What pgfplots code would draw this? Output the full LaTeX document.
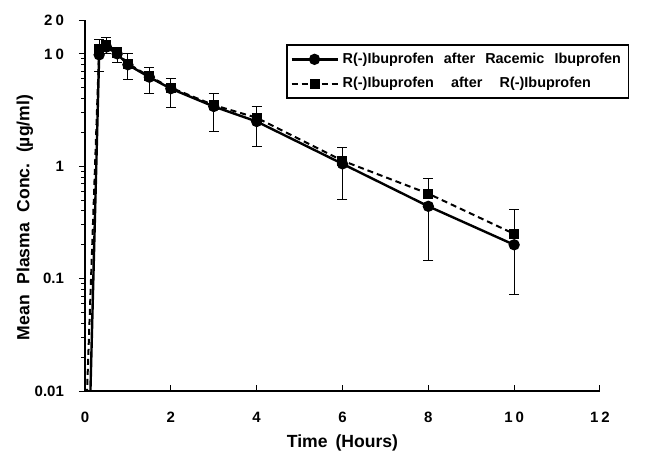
\documentclass[border=0pt]{standalone}
\usepackage{fontspec}
\setmainfont{Liberation Sans}
\usepackage{pgfplots}
\pgfplotsset{compat=1.18}
\usetikzlibrary{calc}

% time, conc (racemic, circles), minus SD, conc (R, squares), plus SD
\pgfplotstableread{
t     c      cm     s      sp
0.33  9.8    2.9    11.0   2.3
0.5   11.5   1.5    12.0   1.9
0.75  10.0   1.7    10.2   1.3
1     8.0    2.1    8.2    1.8
1.5   6.2    1.8    6.3    1.2
2     4.9    1.6    5.0    1.0
3     3.4    1.35   3.5    0.9
4     2.5    1.0    2.7    0.7
6     1.05   0.54   1.12   0.36
8     0.44   0.295  0.57   0.21
10    0.20   0.128  0.25   0.16
}\data

\begin{document}
\begin{tikzpicture}
\begin{axis}[
    scale only axis,
    width=257.5pt, height=185.5pt,
    ymode=log,
    xmin=0, xmax=12, ymin=0.01, ymax=20,
    axis lines=left,
    axis line style={line width=0.75pt, -},
    xtick={0,2,4,6,8,10,12},
    xticklabels={0,2,4,6,8,1\kern1.5pt0,1\kern1.5pt2},
    ytick={0.01,0.1,1,10,20},
    yticklabels={0.01,0.1,1,1\kern1.5pt0,2\kern1.5pt0},
    minor ytick={0.02,0.03,0.04,0.05,0.06,0.07,0.08,0.09,0.2,0.3,0.4,0.5,0.6,0.7,0.8,0.9,2,3,4,5,6,7,8,9},
    x tick style={line width=0.5pt, black},
    y tick style={line width=0.5pt, black},
    xtick align=inside, ytick align=outside,
    major tick length=3pt, minor tick length=1.8pt,
    tick label style={font=\bfseries\fontsize{7.5}{9}\selectfont},
    xticklabel style={yshift=-7pt},
    yticklabel style={xshift=-4pt},
    xlabel={Time\hspace{0.45em}(Hours)},
    ylabel={Mean\hspace{0.6em}Plasma\hspace{0.6em}Conc.\hspace{0.6em}(µg/ml)},
    label style={font=\bfseries\fontsize{8.8}{10}\selectfont},
    xlabel style={yshift=1pt},
    ylabel style={yshift=-6pt, xshift=-6pt},
    legend style={at={(0.39,0.935)}, anchor=north west,
        font=\bfseries\fontsize{7.2}{8.5}\selectfont,
        draw=black, line width=0.9pt, inner sep=1.8pt,
        row sep=1.5pt, cells={anchor=west}},
    legend image code/.code={
        \draw[#1] (0pt,0pt) -- (23pt,0pt);
        \draw[#1, solid] plot coordinates {(11.5pt,0pt)};},
    clip=true,
]
% steep rise from zero (clipped at the bottom)
\addplot[black, line width=1.2pt, forget plot] coordinates {(0.12,0.008) (0.33,9.8)};
\addplot[black, line width=1pt, dash pattern=on 3pt off 2pt, forget plot] coordinates {(0.02,0.005) (0.33,11.0)};
\addplot[black, line width=1.2pt, mark=*, mark size=2.2pt,
    error bars/.cd, y dir=minus, y explicit,
    error bar style={line width=0.5pt, solid},
    error mark options={line width=0.5pt, mark size=2.5pt, rotate=90}]
    table[x=t, y=c, y error minus=cm] {\data};
\addlegendentry{R(-)Ibuprofen\hspace{0.7em}after\hspace{0.7em}Racemic\hspace{0.7em}Ibuprofen}
\addplot[black, line width=1pt, dash pattern=on 3pt off 2pt, mark=square*, mark size=2pt,
    mark options={solid},
    error bars/.cd, y dir=plus, y explicit,
    error bar style={line width=0.5pt, solid},
    error mark options={line width=0.5pt, mark size=2.5pt, rotate=90}]
    table[x=t, y=s, y error plus=sp] {\data};
\addlegendentry{R(-)Ibuprofen\hspace{1.2em}after\hspace{1.2em}R(-)Ibuprofen}
\end{axis}
\pgfresetboundingbox
\path ($(current axis.south west)+(-42.5pt,-30pt)$) rectangle ($(current axis.north east)+(25pt,10pt)$);
\end{tikzpicture}
\end{document}
